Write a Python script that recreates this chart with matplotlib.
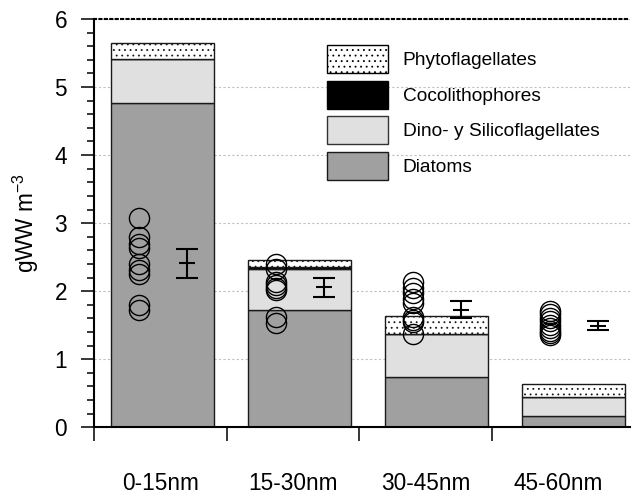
import numpy as np
import matplotlib
matplotlib.use("Agg")
import matplotlib.pyplot as plt
from matplotlib.patches import Patch

plt.rcParams['font.family'] = ['Liberation Sans', 'DejaVu Sans']
plt.rcParams['mathtext.fontset'] = 'custom'
plt.rcParams['mathtext.rm'] = 'Liberation Sans'
plt.rcParams['mathtext.it'] = 'Liberation Sans:italic'
plt.rcParams['hatch.linewidth'] = 0.6

# Depth strata
categories = ["0-15nm", "15-30nm", "30-45nm", "45-60nm"]

# Stacked biomass per group (gWW m-3)
diatoms = [4.77, 1.73, 0.74, 0.17]
dino_silico = [0.64, 0.60, 0.63, 0.27]
cocco = [0.00, 0.03, 0.00, 0.00]
phyto = [0.24, 0.10, 0.26, 0.20]

# Individual total-biomass samples per stratum
samples = [
    [3.08, 2.79, 2.70, 2.64, 2.40, 2.31, 2.26, 1.79, 1.73],
    [2.40, 2.33, 2.13, 2.09, 2.05, 2.02, 1.62, 1.54],
    [2.13, 2.05, 1.97, 1.89, 1.82, 1.62, 1.58, 1.55, 1.37],
    [1.71, 1.66, 1.61, 1.56, 1.51, 1.46, 1.41, 1.38, 1.36],
]

# Mean and standard error of the samples
sample_mean = [2.41, 2.06, 1.73, 1.49]
sample_err = [0.21, 0.14, 0.125, 0.065]

yticks = [0, 1, 2, 3, 4, 5, 6]

W, H = 633, 495
fig = plt.figure(figsize=(W / 100, H / 100), dpi=100)
ax = fig.add_axes([94 / W, 1 - 427.3 / H, (630 - 94) / W, (427.3 - 19) / H])

x = np.arange(len(categories)) + 0.5
bw = 0.75
edge = '#1a1a1a'

ax.bar(x, diatoms, bw, color='#a0a0a0', edgecolor=edge, linewidth=1.0, zorder=2)
bottom = np.array(diatoms)
ax.bar(x, dino_silico, bw, bottom=bottom, color='#e0e0e0', edgecolor=edge, linewidth=1.0, zorder=2)
bottom = bottom + np.array(dino_silico)
ax.bar(x, cocco, bw, bottom=bottom, color='black', edgecolor=edge, linewidth=1.0, zorder=2)
bottom = bottom + np.array(cocco)
ax.bar(x, phyto, bw, bottom=bottom, color='white', edgecolor=edge, linewidth=1.0,
       hatch='...', zorder=2)

# Sample circles to the left of each bar, mean +/- error to the right
for xi, vals in zip(x, samples):
    ax.plot([xi - 0.175] * len(vals), vals, 'o', ms=14.5, mfc='none', mec='black',
            mew=1.0, zorder=4)
ax.errorbar(x + 0.18, sample_mean, yerr=sample_err, fmt='_', ms=11, mew=1.5,
            color='black', ecolor='black', elinewidth=1.5, capsize=7.8,
            capthick=1.5, zorder=4)

ax.set_xlim(0, 3.91)
ax.set_ylim(0, 6)

# Category axis: boundary ticks with centred labels
cat_step = 0.967
ax.set_xticks(np.arange(len(categories)) * cat_step)
ax.set_xticklabels([])
ax.set_xticks((np.arange(len(categories)) + 0.5) * cat_step, minor=True)
ax.set_xticklabels(categories, minor=True, fontsize=16.3)
ax.tick_params(axis='x', which='major', direction='out', length=10, width=1.1)
ax.tick_params(axis='x', which='minor', length=0, pad=32)

ax.set_yticks(yticks)
ax.set_yticklabels([str(v) for v in yticks], fontsize=16.3)
ax.set_yticks(np.arange(0, 6.01, 0.2), minor=True)
ax.tick_params(axis='y', which='major', direction='out', length=9.4, width=1.1, pad=10)
ax.tick_params(axis='y', which='minor', direction='out', length=5, width=1.1)

ax.set_ylabel('gWW m$^{-3}$', fontsize=16.3, labelpad=10)

ax.grid(axis='y', which='major', color='#c0c0c0', linestyle=(0, (2, 2)), linewidth=0.8)
ax.set_axisbelow(True)

for s in ('left', 'bottom'):
    ax.spines[s].set_linewidth(1.5)
ax.spines['right'].set_visible(False)
ax.spines['top'].set_linewidth(1.5)
ax.spines['top'].set_linestyle((0, (1, 1.6)))

handles = [
    Patch(facecolor='white', edgecolor='black', hatch='...', linewidth=1.0),
    Patch(facecolor='black', edgecolor='black', linewidth=1.0),
    Patch(facecolor='#e0e0e0', edgecolor='#333333', linewidth=1.0),
    Patch(facecolor='#a0a0a0', edgecolor='#1a1a1a', linewidth=1.0),
]
labels = ["Phytoflagellates", "Cocolithophores", "Dino- y Silicoflagellates", "Diatoms"]
fig.legend(handles, labels, loc='upper left',
           bbox_to_anchor=(327 / W, 1 - 45 / H), bbox_transform=fig.transFigure,
           frameon=False, fontsize=13.8, handlelength=3.18, handleheight=1.87,
           labelspacing=0.4, handletextpad=0.77, borderpad=0, borderaxespad=0)

fig.savefig('out.png', dpi=100)
